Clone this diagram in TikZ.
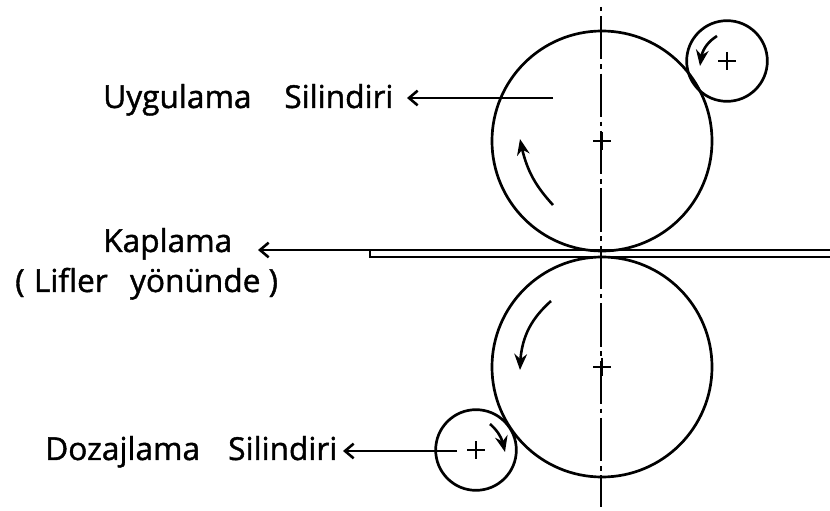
\documentclass[tikz,border=0pt]{standalone}
\usepackage{fontspec}
\setmainfont{Open Sans}[FakeBold=1.3]
\usepackage{tikz}
\usetikzlibrary{arrows.meta, bending}

\begin{document}
\begin{tikzpicture}[
    x=0.03cm, y=-0.03cm,
    roll/.style={draw, circle, line width=2.3pt, inner sep=0pt},
    bigroll/.style={roll, minimum size=6.6cm},
    smallroll/.style={roll, minimum size=2.42cm},
    tag/.style={font=\fontsize{27}{29}\selectfont, inner sep=0pt, anchor=base west},
    arrow/.style={-{Straight Barb[length=2.6mm, width=4.4mm]}, line width=2.2pt},
    turn/.style={-{Stealth[length=4.8mm, width=3.8mm, flex]}, line width=2.2pt},
    axis/.style={line width=2.4pt, dash pattern=on 37pt off 4pt on 4pt off 4pt, dash phase=39.5pt},
    hair/.style={line width=2.3pt},
]
\useasboundingbox (0,0) rectangle (830,511);
% rollers
\node[bigroll] (upper) at (602,141) {};
\node[bigroll] (lower) at (602,367) {};
\node[smallroll] (top) at (727,61) {};
\node[smallroll] (dose) at (476,450) {};
% labels
\node[tag] (apply) at (103,108) {Uygulama\hspace{28pt}Silindiri};
\node[tag] (coat) at (103,252) {Kaplama};
\node[tag] (fibre) at (15,292) {(\hspace{8pt}Lifler\hspace{19pt}yönünde\hspace{7pt})};
\node[tag] (meter) at (45,460) {Dozajlama\hspace{24pt}Silindiri};
% free ends
\coordinate (axistop) at (601,5);
\coordinate (axisend) at (601,507);
\coordinate (sheettip) at (258,250);
\coordinate (sheetright) at (830,250);
\coordinate (foldtop) at (370,250);
\coordinate (foldlow) at (370,257);
\coordinate (foldright) at (830,257);
\coordinate (applyfrom) at (553,98);
\coordinate (applyto) at (407,98);
\coordinate (meterfrom) at (457,451);
\coordinate (meterto) at (343,451);
% center line
\draw[axis] (axistop) -- (axisend);
% sheet
\draw[arrow] (sheetright) -- (sheettip);
\draw[line width=2.3pt] (foldtop) -- (foldlow) -- (foldright);
% pointers
\draw[arrow] (applyfrom) -- (applyto);
\draw[arrow] (meterfrom) -- (meterto);
% center marks
\foreach \c in {upper, lower, top, dose} {
    \draw[hair] (\c.center) ++(-9,0) -- ++(18,0);
    \draw[hair] (\c.center) ++(0,-9) -- ++(0,18);
}
% rotation
\coordinate (upa) at (553,205);
\coordinate (upb) at (520,139);
\coordinate (topa) at (717,36);
\coordinate (topb) at (700,66);
\coordinate (lowa) at (551,301);
\coordinate (lowb) at (520,370);
\coordinate (dosa) at (490,424);
\coordinate (dosb) at (505,452);
\draw[turn] (upa) to[bend left=16] (upb);
\draw[turn] (topa) to[bend right=28] (topb);
\draw[turn] (lowa) to[bend right=24] (lowb);
\draw[turn] (dosa) to[bend left=20] (dosb);
\end{tikzpicture}
\end{document}
